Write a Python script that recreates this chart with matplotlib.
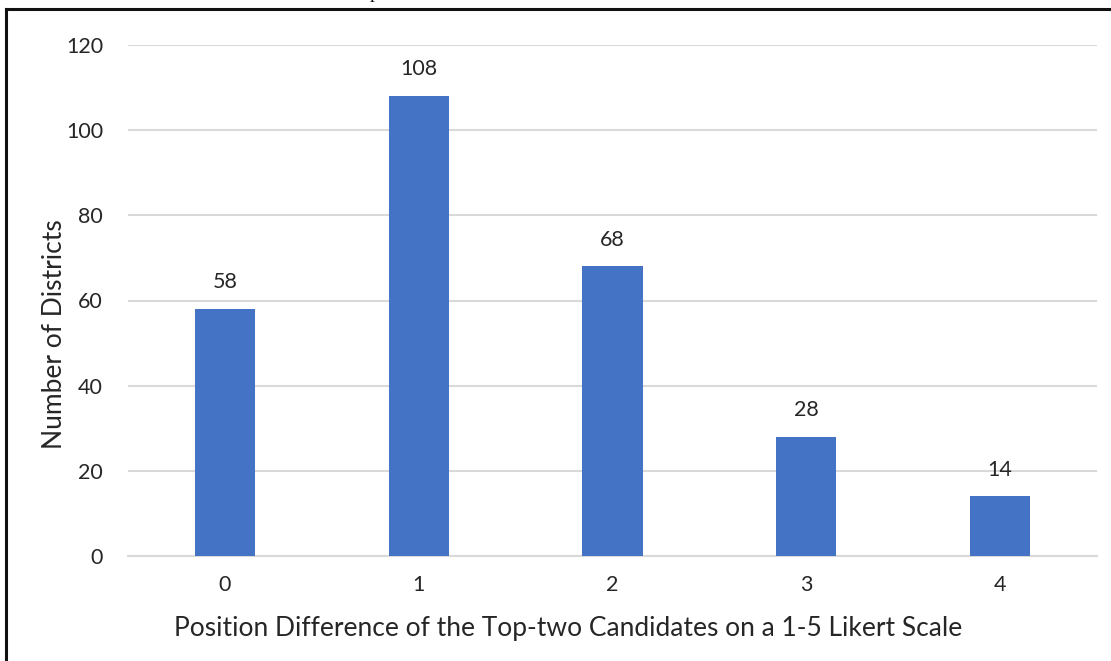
import matplotlib
matplotlib.use("Agg")
import matplotlib.pyplot as plt
from matplotlib.lines import Line2D

# data
categories = ["0", "1", "2", "3", "4"]
districts = [58, 108, 68, 28, 14]
y_ticks = [0, 20, 40, 60, 80, 100, 120]

plt.rcParams["font.family"] = ["Lato", "DejaVu Sans"]
txt = "#262626"
bar_col = "#4472C4"
grid_col = "#D9D9D9"

fig = plt.figure(figsize=(11.11, 6.61), dpi=100)
ax = fig.add_axes([128/1111, 1-556/661, 969/1111, 511/661])

xs = list(range(len(categories)))
bars = ax.bar(xs, districts, width=0.31, color=bar_col, zorder=3)
for b, v in zip(bars, districts):
    ax.annotate(str(v), (b.get_x() + b.get_width()/2, v), xytext=(0, 12),
                textcoords="offset points", ha="center", va="bottom",
                fontsize=15.5, color=txt)

ax.set_xlim(-0.5, 4.5)
ax.set_ylim(0, 120)
ax.set_yticks(y_ticks)
ax.set_xticks(xs)
ax.set_xticklabels(categories)
ax.grid(axis="y", color=grid_col, linewidth=1.5, zorder=0)
for s in ["top", "right", "left"]:
    ax.spines[s].set_visible(False)
ax.spines["bottom"].set_color(grid_col)
ax.spines["bottom"].set_linewidth(1.5)
ax.tick_params(axis="both", length=0, labelsize=15.5, labelcolor=txt)
ax.tick_params(axis="y", pad=18)
ax.tick_params(axis="x", pad=14)

ax.set_xlabel("Position Difference of the Top-two Candidates on a 1-5 Likert Scale",
              fontsize=19, color=txt)
ax.xaxis.set_label_coords(0.454, -0.118)
ax.set_ylabel("Number of Districts", fontsize=19, color=txt)
ax.yaxis.set_label_coords(-0.063, 0.434)

# frame of the pasted picture (top and left edges visible)
fig.add_artist(Line2D([6/1111, 1], [1-9/661, 1-9/661], color="#111111", linewidth=2.2,
                      transform=fig.transFigure))
fig.add_artist(Line2D([6/1111, 6/1111], [0, 1-9/661], color="#111111", linewidth=2.2,
                      transform=fig.transFigure))
# clipped caption fragment above the frame
fig.text(375/1111, 1+2/661, "p", family="Liberation Serif", fontsize=14,
         ha="center", va="baseline", color="#111111")

fig.savefig("out.png", dpi=100)
